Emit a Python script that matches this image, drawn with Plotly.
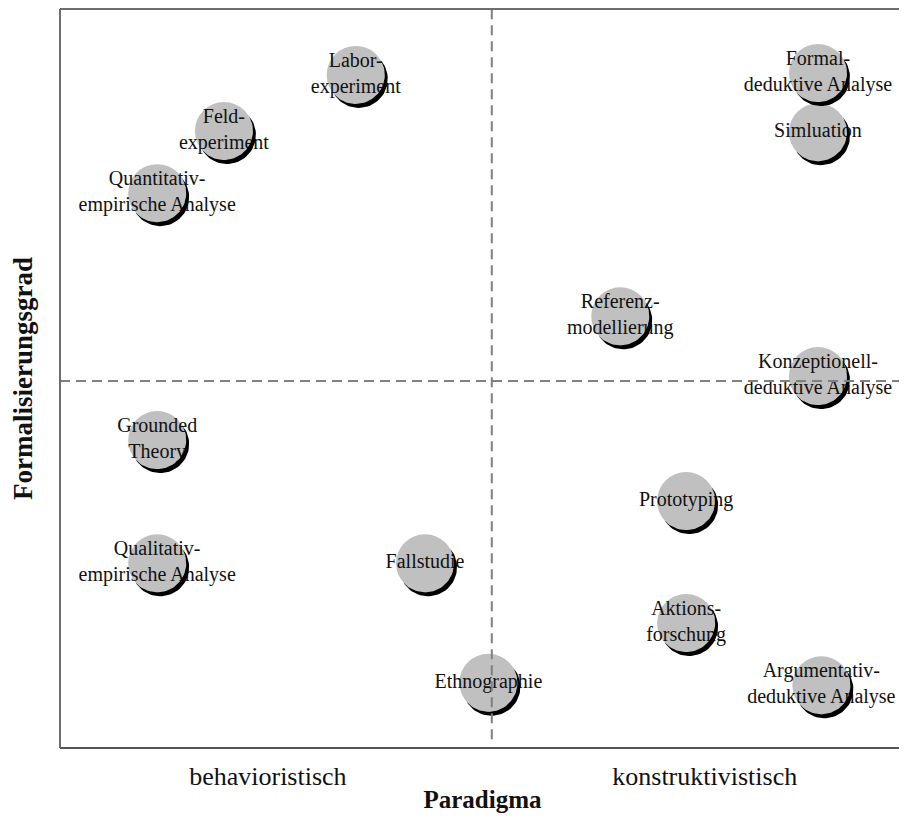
import math
import plotly.graph_objects as go

# ---- data ----
labels = [
    "Labor-<br>experiment",
    "Feld-<br>experiment",
    "Quantitativ-<br>empirische Analyse",
    "Formal-<br>deduktive Analyse",
    "Simluation",
    "Referenz-<br>modellierung",
    "Konzeptionell-<br>deduktive Analyse",
    "Grounded<br>Theory",
    "Prototyping",
    "Qualitativ-<br>empirische Analyse",
    "Fallstudie",
    "Aktions-<br>forschung",
    "Ethnographie",
    "Argumentativ-<br>deduktive Analyse",
]
paradigma = [35.0, 19.4, 11.5, 89.7, 89.7, 66.3, 89.7, 11.5, 74.1, 11.5, 43.2, 74.1, 50.7, 90.1]
formalisierung = [10.93, 10.02, 9.01, 10.96, 10.0, 7.01, 6.04, 5.0, 4.01, 3.0, 3.0, 2.03, 1.06, 1.02]

x_tick_vals = [24.6, 76.3]
x_tick_text = ["behavioristisch", "konstruktivistisch"]
x_split = 51.1
y_split = 5.96

# ---- layout geometry (page body has an 8px margin) ----
W, H = 899, 813
ML, MR, MT, MB = 52, 2, 1, 73
PW, PH = W - ML - MR, H - MT - MB
XR = (0, 100)
YR = (0, 12)
R = 29          # circle radius px
DX, DY = 3, 4   # shadow offset px


def to_px(x, y):
    px = ML + (x - XR[0]) / (XR[1] - XR[0]) * PW
    py = MT + PH - (y - YR[0]) / (YR[1] - YR[0]) * PH
    return px, py


def to_data(px, py):
    x = XR[0] + (px - ML) / PW * (XR[1] - XR[0])
    y = YR[0] + (MT + PH - py) / PH * (YR[1] - YR[0])
    return x, y


# crescent shadows
cx_all, cy_all = [], []
dlen = math.hypot(DX, DY)
phi = math.atan2(DY, DX)
beta = math.acos(-dlen / (2 * R))
gamma = math.acos(dlen / (2 * R))
N = 40
for x, y in zip(paradigma, formalisierung):
    px, py = to_px(x, y)
    sx, sy = px + DX, py + DY
    for i in range(N + 1):
        a = phi - beta + 2 * beta * i / N
        dx_, dy_ = to_data(sx + R * math.cos(a), sy + R * math.sin(a))
        cx_all.append(dx_)
        cy_all.append(dy_)
    for i in range(N + 1):
        a = phi + gamma - 2 * gamma * i / N
        dx_, dy_ = to_data(px + R * math.cos(a), py + R * math.sin(a))
        cx_all.append(dx_)
        cy_all.append(dy_)
    cx_all.append(None)
    cy_all.append(None)

fig = go.Figure()

fig.add_trace(go.Scatter(
    x=paradigma, y=formalisierung, mode="markers",
    marker=dict(size=2 * R, color="#c0c0c0", line=dict(width=0)),
    hoverinfo="skip", showlegend=False,
))
fig.add_trace(go.Scatter(
    x=paradigma, y=formalisierung, mode="text", text=labels,
    textposition="middle center",
    textfont=dict(family="Liberation Serif, Times New Roman, serif", size=20, color="#111111"),
    hoverinfo="skip", showlegend=False,
))
fig.add_trace(go.Scatter(
    x=cx_all, y=cy_all, mode="lines", fill="toself",
    fillcolor="#000000", line=dict(width=0, color="#000000"),
    hoverinfo="skip", showlegend=False,
))

frame = "#6e6e6e"
dash_col = "#808080"
shapes = [
    dict(type="line", xref="x", yref="paper", x0=x_split, x1=x_split, y0=0.012, y1=1,
         line=dict(color=dash_col, width=2, dash="10px,6px")),
    dict(type="line", xref="paper", yref="y", x0=0, x1=1, y0=y_split, y1=y_split,
         line=dict(color=dash_col, width=2, dash="10px,6px")),
    dict(type="line", xref="paper", yref="paper", x0=0, x1=0, y0=0, y1=1,
         line=dict(color=frame, width=2)),
    dict(type="line", xref="paper", yref="paper", x0=0, x1=1, y0=1, y1=1,
         line=dict(color=frame, width=2)),
    dict(type="line", xref="paper", yref="paper", x0=0, x1=1, y0=0, y1=0,
         line=dict(color="#555555", width=2)),
]

serif = "Liberation Serif, Times New Roman, serif"
fig.update_layout(
    width=W, height=H,
    margin=dict(l=ML, r=MR, t=MT, b=MB, autoexpand=False),
    paper_bgcolor="white", plot_bgcolor="white",
    shapes=shapes,
    font=dict(family=serif, color="#111111"),
    xaxis=dict(
        range=list(XR), showgrid=False, zeroline=False, showline=False,
        tickvals=x_tick_vals, ticktext=x_tick_text, ticks="",
        tickfont=dict(family=serif, size=26, color="#111111"),
        ticklabelstandoff=10,
        title=dict(text="<b>Paradigma</b>", font=dict(family=serif, size=25, color="#111111"), standoff=0),
        automargin=False, fixedrange=True,
    ),
    yaxis=dict(
        range=list(YR), showgrid=False, zeroline=False, showline=False,
        showticklabels=False, ticks="",
        title=dict(text="<b>Formalisierungsgrad</b>", font=dict(family=serif, size=27, color="#111111"), standoff=20),
        automargin=False, fixedrange=True,
    ),
)

fig.write_html("out.html")
